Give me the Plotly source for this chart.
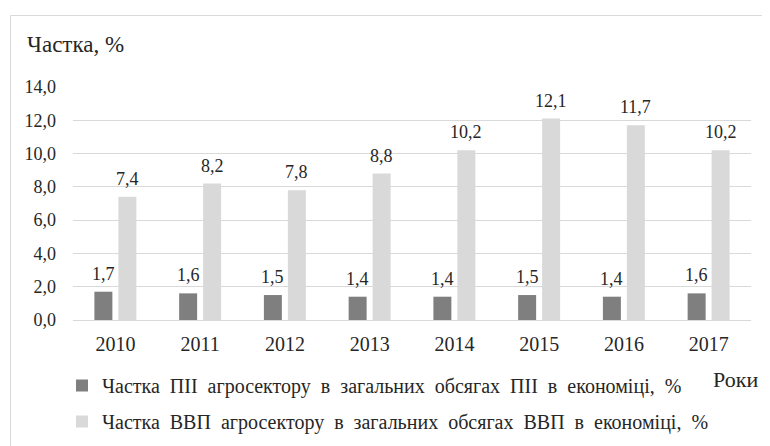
import plotly.graph_objects as go

years = ["2010", "2011", "2012", "2013", "2014", "2015", "2016", "2017"]
pii_share = [1.7, 1.6, 1.5, 1.4, 1.4, 1.5, 1.4, 1.6]
gdp_share = [7.4, 8.2, 7.8, 8.8, 10.2, 12.1, 11.7, 10.2]
series_names = [
    "Частка  ПІІ  агросектору  в  загальних  обсягах  ПІІ  в  економіці,  %",
    "Частка  ВВП  агросектору  в  загальних  обсягах  ВВП  в  економіці,  %",
]
y_ticks = [0, 2, 4, 6, 8, 10, 12, 14]

FONT = "Liberation Serif, Times New Roman, serif"
TXT = "#262626"
# the page body has an 8px margin, so the figure is drawn 8px in from the window edge
OFF = 8
W, H = 770 - OFF, 446 - OFF
L, R, T, B = 73 - OFF, 19, 87 - OFF, 126

fig = go.Figure()
fig.add_trace(go.Bar(
    x=years, y=pii_share, name=series_names[0].replace("  ", "\u00a0\u00a0"),
    marker=dict(color="#7f7f7f", line=dict(width=0)), legendgroup="a",
))
fig.add_trace(go.Bar(
    x=years, y=gdp_share, name=series_names[1].replace("  ", "\u00a0\u00a0"),
    marker=dict(color="#d9d9d9", line=dict(width=0)), legendgroup="b",
))

# data labels: placed on the category axis by index (numeric-looking category names
# would otherwise be read as positions)
annotations = []
for vals, shift in ((pii_share, -12), (gdp_share, 12)):
    for i, v in enumerate(vals):
        annotations.append(dict(
            x=i, y=v, xref="x", yref="y", text=f"{v:.1f}".replace(".", ","),
            showarrow=False, xanchor="center", yanchor="bottom",
            xshift=shift, yshift=6,
            font=dict(size=18, family=FONT, color=TXT),
        ))

pw = W - L - R
ph = H - T - B
def px_x(x):
    return (x - OFF - L) / pw
def px_y(y):
    return 1 - (y - OFF - T) / ph

annotations += [
    dict(text="Частка, %", xref="paper", yref="paper",
         x=px_x(25), y=px_y(45), xanchor="left", yanchor="middle",
         showarrow=False, font=dict(size=23, family=FONT, color=TXT)),
    dict(text="Роки", xref="paper", yref="paper",
         x=px_x(760), y=px_y(379), xanchor="right", yanchor="middle",
         showarrow=False, font=dict(size=22, family=FONT, color=TXT)),
]

fig.update_layout(
    width=W, height=H,
    margin=dict(l=L, r=R, t=T, b=B, autoexpand=False),
    paper_bgcolor="white", plot_bgcolor="white",
    separators=", ",
    font=dict(family=FONT, size=18, color=TXT),
    barmode="group", bargap=0.434, bargroupgap=0.25,
    showlegend=True,
    legend=dict(
        orientation="v", x=px_x(62), y=px_y(366), xanchor="left", yanchor="top",
        font=dict(size=20, family=FONT, color=TXT),
        itemwidth=30, tracegroupgap=7, bgcolor="rgba(0,0,0,0)",
    ),
    xaxis=dict(
        type="category",
        showline=True, linecolor="#d9d9d9", linewidth=1,
        ticks="", tickfont=dict(size=20, family=FONT, color=TXT),
        showgrid=False, ticklabelstandoff=6,
    ),
    yaxis=dict(
        range=[0, 14], tickvals=y_ticks, tickformat=".1f",
        showgrid=True, gridcolor="#d9d9d9", gridwidth=1,
        zeroline=False, showline=False, ticks="",
        tickfont=dict(size=18, family=FONT, color=TXT),
        ticklabelstandoff=16,
    ),
    shapes=[dict(
        type="rect", xref="paper", yref="paper",
        x0=px_x(10.5), x1=px_x(800), y0=px_y(15.5), y1=px_y(500),
        line=dict(color="#d9d9d9", width=1), fillcolor="rgba(0,0,0,0)", layer="below",
    )],
    annotations=annotations,
)

fig.write_html("out.html")
